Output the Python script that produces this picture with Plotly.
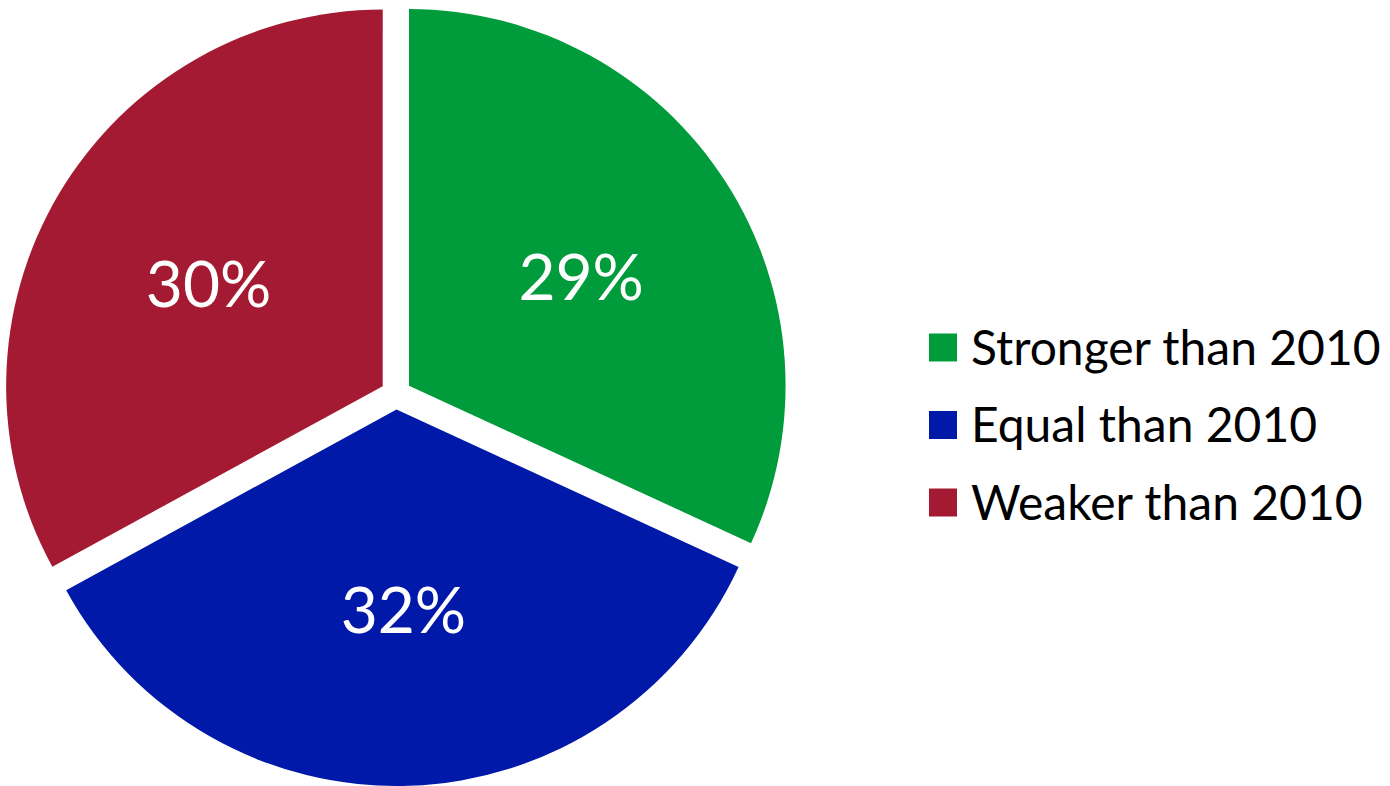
import plotly.graph_objects as go

# ---- data ----
categories = ["Stronger than 2010", "Equal than 2010", "Weaker than 2010"]
values = [29, 32, 30]
colors = ["#009B3A", "#0019A8", "#A51A33"]

W, H = 1390, 786
FONT = "Lato"

fig = go.Figure()
fig.add_trace(go.Pie(
    labels=categories,
    values=values,
    sort=False,
    direction="clockwise",
    rotation=0,
    pull=[0.041] * len(values),
    marker=dict(colors=colors, line=dict(width=0)),
    texttemplate="%{value}%",
    textposition="inside",
    insidetextorientation="horizontal",
    textfont=dict(family=FONT, size=64, color="white"),
    showlegend=False,
    hoverinfo="label+value",
    domain=dict(x=[0, 792 / W], y=[0, 784 / H]),
))

# custom legend with large square swatches
shapes = []
annotations = []
sq = 28
x0 = 929
for i, (cat, col) in enumerate(zip(categories, colors)):
    yc = 347.5 + i * 77.5
    shapes.append(dict(
        type="rect", xref="paper", yref="paper",
        x0=x0 / W, x1=(x0 + sq) / W,
        y0=1 - (yc + sq / 2) / H, y1=1 - (yc - sq / 2) / H,
        fillcolor=col, line=dict(width=0),
    ))
    annotations.append(dict(
        xref="paper", yref="paper", x=969 / W, y=1 - (yc - 1.5) / H,
        xanchor="left", yanchor="middle", showarrow=False,
        text=cat, font=dict(family=FONT, size=48, color="black"),
    ))

fig.update_layout(
    width=W, height=H,
    margin=dict(l=0, r=0, t=0, b=0),
    paper_bgcolor="white",
    plot_bgcolor="white",
    shapes=shapes,
    annotations=annotations,
)

fig.write_html(
    "out.html",
    config={"displayModeBar": False},
    post_script="document.body.style.margin='0px';",
)
